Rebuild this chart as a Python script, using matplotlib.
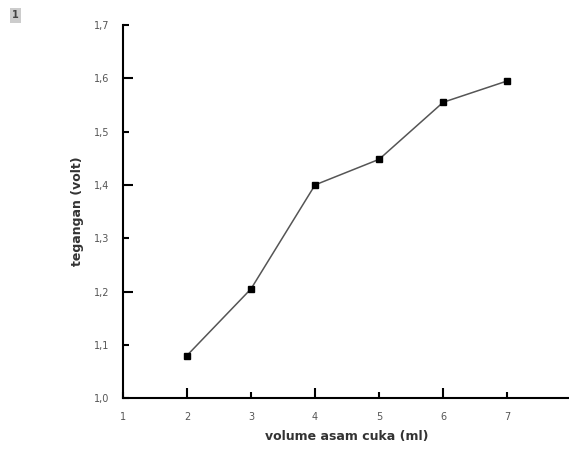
import matplotlib.pyplot as plt
from matplotlib.ticker import FixedLocator, FuncFormatter

# data
volume = [2, 3, 4, 5, 6, 7]
tegangan = [1.08, 1.205, 1.40, 1.448, 1.555, 1.595]

x_ticks = [1, 2, 3, 4, 5, 6, 7, 8]
y_ticks = [1.0, 1.1, 1.2, 1.3, 1.4, 1.5, 1.6, 1.7]

fig = plt.figure(figsize=(5.69, 4.54), dpi=100)
ax = fig.add_axes([0.216, 0.123, 0.788, 0.822])

ax.plot(volume, tegangan, color='#555555', linewidth=1.1,
        marker='s', markersize=5, markerfacecolor='black', markeredgecolor='black')

ax.set_xlim(1, 8)
ax.set_ylim(1.0, 1.7)

ax.spines['top'].set_visible(False)
ax.spines['right'].set_visible(False)
ax.spines['left'].set_linewidth(1.5)
ax.spines['bottom'].set_linewidth(1.5)

# long ticks on even values, short on odd
ax.xaxis.set_major_locator(FixedLocator([2, 4, 6, 8]))
ax.xaxis.set_minor_locator(FixedLocator([1, 3, 5, 7]))
ax.yaxis.set_major_locator(FixedLocator([1.2, 1.4, 1.6]))
ax.yaxis.set_minor_locator(FixedLocator([1.0, 1.1, 1.3, 1.5, 1.7]))

fmt = lambda v, p: f"{v:g}".replace('.', ',')
yfmt = lambda v, p: f"{v:.1f}".replace('.', ',')
ax.xaxis.set_major_formatter(FuncFormatter(fmt))
ax.xaxis.set_minor_formatter(FuncFormatter(fmt))
ax.yaxis.set_major_formatter(FuncFormatter(yfmt))
ax.yaxis.set_minor_formatter(FuncFormatter(yfmt))

for which, length in (('major', 7), ('minor', 4)):
    ax.tick_params(axis='both', which=which, direction='in', length=length,
                   width=1.5, labelsize=7, labelcolor='#555555', pad=10)

ax.set_xlabel("volume asam cuka (ml)", fontsize=9, fontweight='bold', color='#333333', labelpad=6)
ax.set_ylabel("tegangan (volt)", fontsize=9, fontweight='bold', color='#333333', labelpad=7)

fig.text(0.027, 0.966, "1", fontsize=7, fontweight='bold', color='#444444',
         ha='center', va='center',
         bbox=dict(boxstyle='square,pad=0.25', facecolor='#cccccc', edgecolor='none'))

plt.savefig("out.png", dpi=100)
